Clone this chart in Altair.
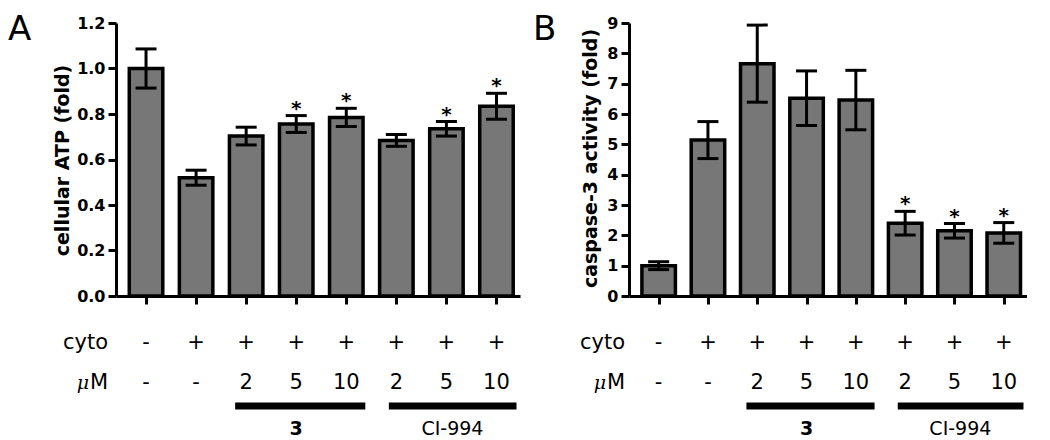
import altair as alt
import pandas as pd

# ---- data ----
positions = [0, 1, 2, 3, 4, 5, 6, 7]
cyto_row = ["-", "+", "+", "+", "+", "+", "+", "+"]
um_row = ["-", "-", "2", "5", "10", "2", "5", "10"]

atp_mean = [1.00, 0.52, 0.703, 0.756, 0.785, 0.684, 0.735, 0.834]
atp_err = [0.086, 0.033, 0.039, 0.037, 0.040, 0.026, 0.032, 0.057]
atp_star = ["", "", "", "*", "*", "", "*", "*"]
atp_ticks = [0.0, 0.2, 0.4, 0.6, 0.8, 1.0, 1.2]

casp_mean = [1.0, 5.14, 7.66, 6.52, 6.46, 2.40, 2.15, 2.08]
casp_err = [0.13, 0.61, 1.27, 0.90, 0.98, 0.39, 0.24, 0.34]
casp_star = ["", "", "", "", "", "*", "*", "*"]
casp_ticks = [0, 1, 2, 3, 4, 5, 6, 7, 8, 9]

group_names = ["3", "CI-994"]
group_start = [1.78, 4.85]
group_end = [4.38, 7.40]
group_center = [3.0, 6.12]

FONT = "DejaVu Sans"


def panel(letter, mean, err, star, ymax, yticks, yfmt, ytitle, width,
          title_x, title_y, row_x, mu_x, letter_x):
    df = pd.DataFrame({
        "pos": positions,
        "mean": mean,
        "lo": [m - e for m, e in zip(mean, err)],
        "hi": [m + e for m, e in zip(mean, err)],
        "star": star,
        "cyto": cyto_row,
        "um": um_row,
    })
    gdf = pd.DataFrame({"name": group_names, "start": group_start,
                        "end": group_end, "center": group_center})

    xs = alt.Scale(domain=[-0.5, 7.37], nice=False, zero=False)
    ys = alt.Scale(domain=[0, ymax], nice=False, zero=True)
    xaxis = alt.Axis(values=positions, labels=False, title=None, grid=False,
                     tickSize=8, tickWidth=3, tickColor="black",
                     domainColor="black", domainWidth=3)
    yaxis = alt.Axis(values=yticks, format=yfmt, title=ytitle, grid=False,
                     labelOverlap=False, tickCount=len(yticks),
                     tickSize=8, tickWidth=3, tickColor="black",
                     domainColor="black", domainWidth=3,
                     labelFont=FONT, labelFontSize=16, labelFontWeight="bold",
                     labelColor="black", labelPadding=3,
                     titleFont=FONT, titleFontSize=19, titleFontWeight="bold",
                     titleColor="black", titleAngle=270,
                     titleBaseline="middle", titleAlign="center",
                     titleX=title_x, titleY=title_y)

    def X(field):
        return alt.X(field, scale=xs, axis=xaxis)

    def Y(field):
        return alt.Y(field, scale=ys, axis=yaxis)

    base = alt.Chart(df)
    bars = base.mark_bar(orient="vertical", size=33.5, fill="#777777",
                         stroke="black", strokeWidth=3.5).encode(x=X("pos:Q"), y=Y("mean:Q"))
    whisk = base.mark_rule(color="black", strokeWidth=3).encode(
        x=X("pos:Q"), y=Y("lo:Q"), y2="hi:Q")
    cap_hi = base.mark_tick(orient="horizontal", size=21, thickness=3,
                            color="black", opacity=1).encode(x=X("pos:Q"), y=Y("hi:Q"))
    cap_lo = base.mark_tick(orient="horizontal", size=21, thickness=3,
                            color="black", opacity=1).encode(x=X("pos:Q"), y=Y("lo:Q"))
    stars = base.transform_filter(alt.datum.star != "").mark_text(
        font=FONT, fontSize=20, fontWeight="bold",
        baseline="alphabetic", dy=-1, color="black").encode(
        x=X("pos:Q"), y=Y("hi:Q"), text="star:N")

    row1 = base.mark_text(font=FONT, fontSize=21, baseline="alphabetic",
                          color="black").encode(x=X("pos:Q"), y=alt.value(326), text="cyto:N")
    row2 = base.mark_text(font=FONT, fontSize=21, baseline="alphabetic",
                          color="black").encode(x=X("pos:Q"), y=alt.value(366), text="um:N")

    lab = alt.Chart(pd.DataFrame({"t": ["cyto"]})).mark_text(
        font=FONT, fontSize=21, align="right", baseline="alphabetic", color="black"
    ).encode(x=alt.value(row_x), y=alt.value(326), text="t:N")
    lab_m = alt.Chart(pd.DataFrame({"t": ["M"]})).mark_text(
        font=FONT, fontSize=21, align="right", baseline="alphabetic", color="black"
    ).encode(x=alt.value(row_x), y=alt.value(366), text="t:N")
    lab_mu = alt.Chart(pd.DataFrame({"t": ["μ"]})).mark_text(
        font="DejaVu Serif", fontSize=19, fontStyle="italic", align="right",
        baseline="alphabetic", color="black"
    ).encode(x=alt.value(mu_x), y=alt.value(366), text="t:N")

    glines = alt.Chart(gdf).mark_rule(color="black", strokeWidth=7).encode(
        x=X("start:Q"), x2="end:Q", y=alt.value(383))
    g3 = alt.Chart(gdf).transform_filter(alt.datum.name == "3").mark_text(
        font=FONT, fontSize=19, fontWeight="bold", baseline="alphabetic", color="black"
    ).encode(x=X("center:Q"), y=alt.value(412), text="name:N")
    gci = alt.Chart(gdf).transform_filter(alt.datum.name != "3").mark_text(
        font=FONT, fontSize=19, baseline="alphabetic", color="black"
    ).encode(x=X("center:Q"), y=alt.value(412), text="name:N")

    let = alt.Chart(pd.DataFrame({"t": [letter]})).mark_text(
        font=FONT, fontSize=34, align="left", baseline="top", color="black"
    ).encode(x=alt.value(letter_x), y=alt.value(-10), text="t:N")

    return alt.layer(bars, whisk, cap_hi, cap_lo, stars, row1, row2, lab, lab_m,
                     lab_mu, glines, g3, gci, let).properties(width=width, height=273)


pA = panel("A", atp_mean, atp_err, atp_star, 1.2, atp_ticks, ".1f",
           "cellular ATP (fold)", 404, -54, 137, -8, -27, -108)
pB = panel("B", casp_mean, casp_err, casp_star, 9, casp_ticks, "d",
           "caspase-3 activity (fold)", 398, -39, 135, -4, -23, -96)

chart = alt.hconcat(pA, pB, spacing=12).properties(
    padding={"left": 0, "top": 5, "right": 0, "bottom": 0}
).configure_view(strokeWidth=0)

chart.save("out.html", embed_options={"renderer": "svg", "actions": False})
